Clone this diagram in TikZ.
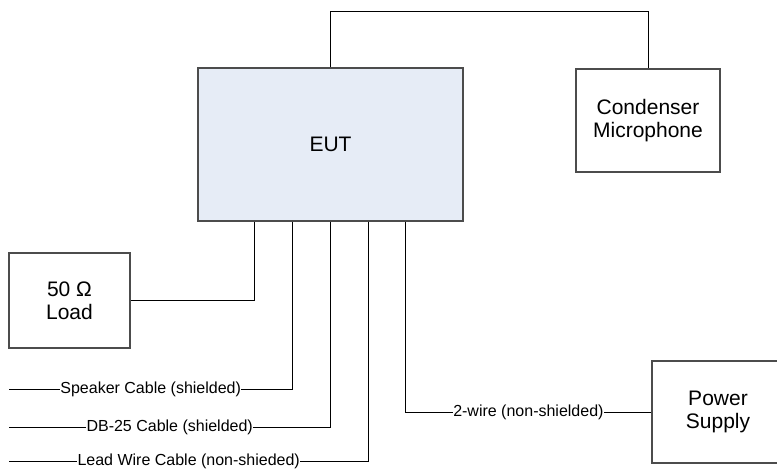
\documentclass[tikz,border=0pt]{standalone}
\usepackage{fontspec}
\setmainfont{Liberation Sans}
\usetikzlibrary{calc,positioning}
\definecolor{eutfill}{RGB}{230,236,246}
\tikzset{
    unitbox/.style={draw=black!70,line width=1.2pt,align=center,inner sep=0pt,
        font=\fontsize{21}{23}\selectfont},
    wire/.style={draw=black,line width=0.8pt},
    cablelabel/.style={fill=white,inner sep=0.5pt,font=\fontsize{16}{18}\selectfont}
}

\begin{document}
\begin{tikzpicture}[x=1pt,y=-1pt]
    \useasboundingbox (0,0) rectangle (777,472);

    % Equipment under test and the units around it
    \node[unitbox,fill=eutfill,minimum width=265,minimum height=153] (eut) at (330.5,144.5) {EUT};
    \node[unitbox,minimum width=144,minimum height=103] (mic) at (648,120.5) {Condenser\\Microphone};
    \node[unitbox,minimum width=121,minimum height=95] (load) at (69.5,300.5) {50 Ω\\Load};
    \node[unitbox,minimum width=132,minimum height=102] (power) at (718,412) {Power\\Supply};

    % Cable taps along the bottom edge of the EUT
    \foreach \k [count=\n] in {57,95,133,171,208}%
    {%
        \coordinate (tap\n) at ($(eut.south west)+(\k,0)$);
    }

    % Free ends of the unterminated cables
    \coordinate (wtop) at (0,11);
    \coordinate (spkend) at (9,389);
    \coordinate (dbend) at (9,427);
    \coordinate (leadend) at (9,461);

    % Microphone lead over the top
    \draw[wire] (eut.north) -- (eut.north |- wtop) -| (mic.north);

    % Cables leaving the bottom of the EUT
    \draw[wire] (tap1) |- (load.east);
    \draw[wire] (tap2) |- (spkend) node[cablelabel,pos=0.75] {Speaker Cable (shielded)};
    \draw[wire] (tap3) |- (dbend) node[cablelabel,pos=0.75] {DB-25 Cable (shielded)};
    \draw[wire] (tap4) |- (leadend) node[cablelabel,pos=0.75] {Lead Wire Cable (non-shieded)};
    \draw[wire] (tap5) |- (power.west) node[cablelabel,pos=0.75] {2-wire (non-shielded)};
\end{tikzpicture}
\end{document}
